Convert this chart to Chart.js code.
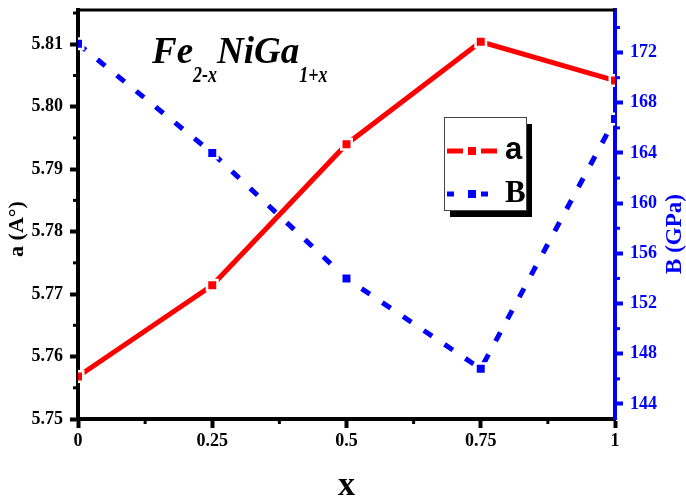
<!DOCTYPE html>
<html>
<head>
<meta charset="utf-8">
<script src="https://cdn.jsdelivr.net/npm/chart.js@4.4.1/dist/chart.umd.min.js"></script>
<style>
  html, body { margin: 0; padding: 0; background: #ffffff; }
  #wrap { width: 686px; height: 497px; position: relative; }
  canvas { display: block; }
</style>
</head>
<body>
<div id="wrap"><canvas id="chart" width="686" height="497"></canvas></div>
<script>
// Composition x in Fe(2-x)NiGa(1+x)
const compositionX = [0, 0.25, 0.5, 0.75, 1];
// Lattice parameter a (Å)
const latticeA = [5.7568, 5.7714, 5.7940, 5.8104, 5.8042];
// Bulk modulus B (GPa)
const bulkModulusB = [172.7, 164.0, 154.0, 146.8, 166.7];

// Axis ticks
const xTickValues = [0, 0.25, 0.5, 0.75, 1];
const xTickLabels = ['0', '0.25', '0.5', '0.75', '1'];
const xMinorTicks = [0.125, 0.375, 0.625, 0.875];
const aTickValues = [5.75, 5.76, 5.77, 5.78, 5.79, 5.80, 5.81];
const aMinorTicks = [5.755, 5.765, 5.775, 5.785, 5.795, 5.805, 5.815];
const bTickValues = [144, 148, 152, 156, 160, 164, 168, 172];
const bMinorTicks = [146, 150, 154, 158, 162, 166, 170, 174];

const RED = '#ff0000';
const BLUE = '#0000ff';
const SERIF = '"Liberation Serif", "Times New Roman", serif';
const SANS = '"Liberation Sans", Arial, sans-serif';

const fixedTicks = values => scale => { scale.ticks = values.map(v => ({ value: v })); };
// fixed axis width; no extra top/bottom room for the end labels
const fixedWidth = w => scale => { scale.width = w; scale.paddingTop = 0; scale.paddingBottom = 0; };

// Frame line, minor ticks, axis titles, formula and legend box
const decorations = {
  id: 'decorations',
  afterDraw(chart) {
    const { ctx, chartArea: ca, scales } = chart;
    ctx.save();

    // top frame line
    ctx.strokeStyle = '#000';
    ctx.lineWidth = 3;
    ctx.beginPath();
    ctx.moveTo(ca.left - 2, ca.top);
    ctx.lineTo(ca.right, ca.top);
    ctx.stroke();

    // minor ticks
    ctx.lineWidth = 3;
    ctx.strokeStyle = '#000';
    xMinorTicks.forEach(v => {
      const px = scales.x.getPixelForValue(v);
      ctx.beginPath(); ctx.moveTo(px, ca.bottom); ctx.lineTo(px, ca.bottom + 5); ctx.stroke();
    });
    aMinorTicks.forEach(v => {
      const py = scales.yA.getPixelForValue(v);
      if (py < ca.top) return;
      ctx.beginPath(); ctx.moveTo(ca.left, py); ctx.lineTo(ca.left - 5, py); ctx.stroke();
    });
    ctx.strokeStyle = BLUE;
    bMinorTicks.forEach(v => {
      const py = scales.yB.getPixelForValue(v);
      if (py < ca.top) return;
      ctx.beginPath(); ctx.moveTo(ca.right, py); ctx.lineTo(ca.right + 5, py); ctx.stroke();
    });

    // axis titles
    ctx.textAlign = 'center';
    ctx.textBaseline = 'middle';
    ctx.fillStyle = '#000';
    ctx.font = 'bold 34px ' + SERIF;
    ctx.fillText('x', (ca.left + ca.right) / 2, 486);

    ctx.save();
    ctx.translate(17, 229);
    ctx.rotate(-Math.PI / 2);
    ctx.font = 'bold 22px ' + SERIF;
    ctx.fillText('a (A°)', 0, 0);
    ctx.restore();

    ctx.save();
    ctx.translate(675, 234);
    ctx.rotate(-Math.PI / 2);
    ctx.fillStyle = BLUE;
    ctx.font = 'bold 23px ' + SERIF;
    ctx.fillText('B (GPa)', 0, 0);
    ctx.restore();

    // compound formula
    ctx.textAlign = 'left';
    ctx.textBaseline = 'alphabetic';
    ctx.fillStyle = '#000';
    const parts = [
      ['Fe', false], ['2-x', true], ['NiGa', false], ['1+x', true]
    ];
    let tx = 152;
    parts.forEach(([txt, sub]) => {
      if (sub) {
        ctx.font = 'italic bold 23px ' + SERIF;
        const w = ctx.measureText(txt).width * 0.78;
        ctx.save();
        ctx.translate(tx, 82);
        ctx.scale(0.78, 1);
        ctx.fillText(txt, 0, 0);
        ctx.restore();
        tx += w;
      } else {
        ctx.font = 'italic bold 37px ' + SERIF;
        ctx.fillText(txt, tx, 63);
        tx += ctx.measureText(txt).width;
      }
    });

    // legend box with drop shadow
    const bx = 444, by = 117, bw = 82, bh = 93;
    ctx.fillStyle = '#000';
    ctx.fillRect(bx + 6, by + 7, bw, bh);
    ctx.fillStyle = '#fff';
    ctx.fillRect(bx, by, bw, bh);
    ctx.strokeStyle = '#444';
    ctx.lineWidth = 1;
    ctx.strokeRect(bx + 0.5, by + 0.5, bw, bh);

    const sample = (ds, y, dashes, label, font) => {
      ctx.strokeStyle = ds.borderColor;
      ctx.lineWidth = 5;
      ctx.lineCap = 'butt';
      dashes.forEach(([a, b]) => {
        ctx.beginPath(); ctx.moveTo(a, y); ctx.lineTo(b, y); ctx.stroke();
      });
      ctx.fillStyle = ds.pointBackgroundColor;
      ctx.fillRect(468, y - 4, 8, 8);
      ctx.fillStyle = '#000';
      ctx.font = font;
      ctx.textBaseline = 'alphabetic';
      ctx.fillText(label, 505, y + 8);
    };
    const dsA = chart.data.datasets[0];
    const dsB = chart.data.datasets[1];
    sample(dsA, 151, [[447, 463], [481, 497]], dsA.label, 'bold 31px ' + SANS);
    sample(dsB, 194, [[447, 454], [481, 488]], dsB.label, 'bold 31px ' + SERIF);

    ctx.restore();
  }
};

new Chart(document.getElementById('chart'), {
  type: 'line',
  data: {
    datasets: [
      {
        label: 'a',
        data: compositionX.map((x, i) => ({ x, y: latticeA[i] })),
        yAxisID: 'yA',
        borderColor: RED,
        borderWidth: 5,
        pointStyle: 'rect',
        pointRadius: 7.4,
        pointBackgroundColor: RED,
        pointBorderColor: '#ffffff',
        pointBorderWidth: 2.5,
        tension: 0,
        order: 1
      },
      {
        label: 'B',
        data: compositionX.map((x, i) => ({ x, y: bulkModulusB[i] })),
        yAxisID: 'yB',
        borderColor: BLUE,
        borderWidth: 5,
        borderDash: [10, 15],
        pointStyle: 'rect',
        pointRadius: 7.4,
        pointBackgroundColor: BLUE,
        pointBorderColor: '#ffffff',
        pointBorderWidth: 2.5,
        tension: 0,
        order: 0
      }
    ]
  },
  options: {
    responsive: false,
    animation: false,
    devicePixelRatio: 1,
    layout: { padding: { top: 9, left: 0, right: 0, bottom: 0 } },
    plugins: { legend: { display: false }, tooltip: { enabled: false } },
    scales: {
      x: {
        type: 'linear',
        min: 0,
        max: 1,
        z: 1,
        afterBuildTicks: fixedTicks(xTickValues),
        afterFit: s => { s.height = 78; },
        border: { color: '#000', width: 4 },
        grid: { drawOnChartArea: false, drawTicks: true, tickLength: 9, tickWidth: 4, tickColor: '#000' },
        ticks: {
          color: '#000',
          padding: 3,
          font: { family: SERIF, weight: 'bold', size: 18 },
          callback: (v, i) => xTickLabels[i]
        }
      },
      yA: {
        type: 'linear',
        position: 'left',
        min: 5.75,
        max: 5.8155,
        z: 1,
        afterBuildTicks: fixedTicks(aTickValues),
        afterFit: fixedWidth(78),
        border: { color: '#000', width: 4 },
        grid: { drawOnChartArea: false, drawTicks: true, tickLength: 8, tickWidth: 4, tickColor: '#000' },
        ticks: {
          color: '#000',
          padding: 7,
          font: { family: SERIF, weight: 'bold', size: 18, lineHeight: 1 },
          callback: v => v.toFixed(2)
        }
      },
      yB: {
        type: 'linear',
        position: 'right',
        min: 142.8,
        max: 175.4,
        z: 1,
        afterBuildTicks: fixedTicks(bTickValues),
        afterFit: fixedWidth(71),
        border: { color: BLUE, width: 4 },
        grid: { drawOnChartArea: false, drawTicks: true, tickLength: 8, tickWidth: 4, tickColor: BLUE },
        ticks: {
          color: BLUE,
          padding: 7,
          font: { family: SERIF, weight: 'bold', size: 18, lineHeight: 1 },
          callback: v => String(v)
        }
      }
    }
  },
  plugins: [decorations]
});
</script>
</body>
</html>
